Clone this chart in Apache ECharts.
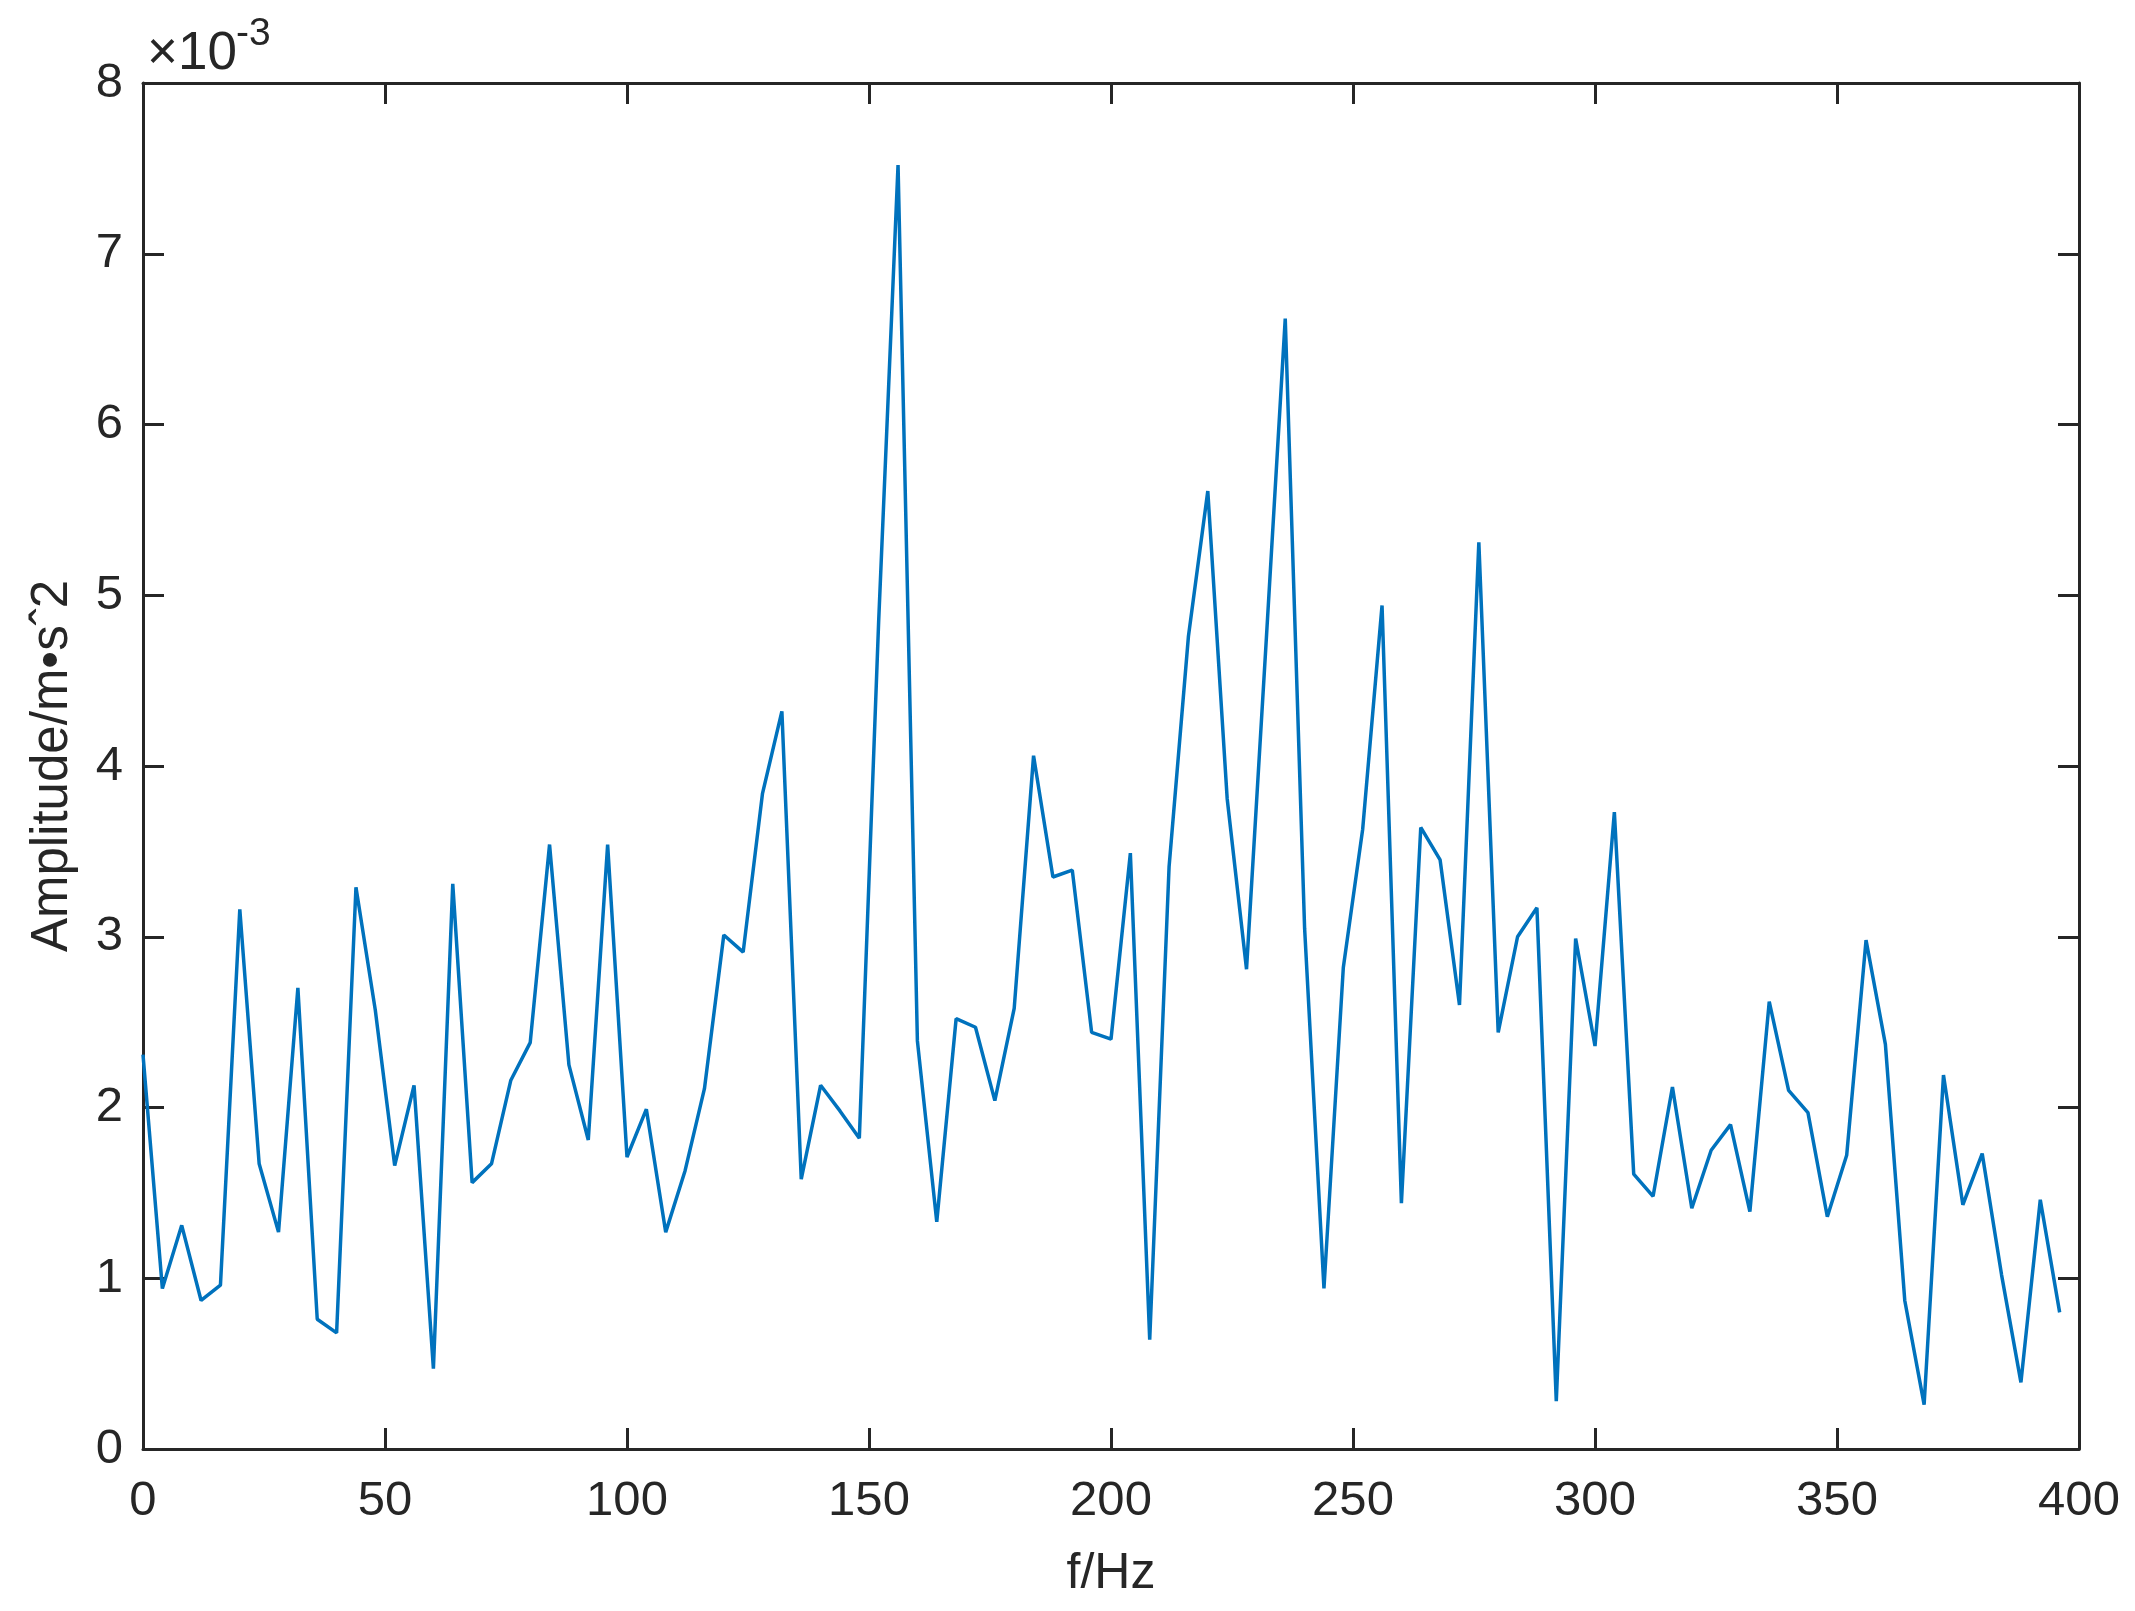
<!DOCTYPE html>
<html>
<head>
<meta charset="utf-8">
<script src="https://cdn.jsdelivr.net/npm/echarts@6/dist/echarts.min.js"></script>
<style>
html,body{margin:0;padding:0;background:#fff;}
#chart{width:2135px;height:1611px;}
</style>
</head>
<body>
<div id="chart"></div>
<script>
// frequency (Hz)
const freq = [0,4,8,12,16,20,24,28,32,36,40,44,48,52,56,60,64,68,72,76,80,84,88,92,96,
  100,104,108,112,116,120,124,128,132,136,140,144,148,152,156,160,164,168,172,176,180,184,188,192,196,200,
  204,208,212,216,220,224,228,232,236,240,244,248,252,256,260,264,268,272,276,280,284,288,292,296,300,
  304,308,312,316,320,324,328,332,336,340,344,348,352,356,360,364,368,372,376,380,384,388,392,396];
// amplitude (x 10^-3 m·s^-2)
const amp = [2.31,0.94,1.31,0.87,0.96,3.16,1.67,1.27,2.70,0.76,0.68,3.29,2.57,1.66,2.13,0.47,3.31,1.56,1.67,2.16,2.38,3.54,2.25,1.81,3.54,
  1.71,1.99,1.27,1.63,2.11,3.01,2.91,3.84,4.32,1.58,2.13,1.98,1.82,4.85,7.52,2.39,1.33,2.52,2.47,2.04,2.58,4.06,3.35,3.39,2.44,2.40,
  3.49,0.64,3.41,4.76,5.61,3.81,2.81,4.70,6.62,3.05,0.94,2.82,3.63,4.94,1.44,3.64,3.45,2.60,5.31,2.44,3.00,3.17,0.28,2.99,2.36,
  3.73,1.61,1.48,2.12,1.41,1.75,1.90,1.39,2.62,2.10,1.97,1.36,1.72,2.98,2.37,0.87,0.26,2.19,1.43,1.73,1.02,0.39,1.46,0.80];
const xName = 'f/Hz';
const yName = 'Amplitude/m•s\u02C62';
const expText = '\u00D710';
const expSup = '-3';

const FONT = "'Liberation Sans', Arial, sans-serif";
const AX = '#262626';
const chart = echarts.init(document.getElementById('chart'));
const seriesData = freq.map((f, i) => [f, amp[i]]);

const axisLineStyle = {color: AX, width: 3};
const tickStyle = {show: true, inside: true, length: 21, lineStyle: {color: AX, width: 3}};

chart.setOption({
  backgroundColor: '#fff',
  animation: false,
  grid: {left: 143, top: 83, width: 1936, height: 1366, containLabel: false},
  xAxis: [{
    type: 'value', min: 0, max: 400, interval: 50, position: 'bottom',
    name: xName, nameLocation: 'middle', nameGap: 100,
    nameTextStyle: {fontFamily: FONT, fontSize: 50, color: AX},
    axisLine: {show: true, onZero: false, lineStyle: axisLineStyle},
    axisTick: tickStyle,
    axisLabel: {fontFamily: FONT, fontSize: 49, color: AX, margin: 28},
    splitLine: {show: false}
  }, {
    type: 'value', min: 0, max: 400, interval: 50, position: 'top',
    axisLine: {show: true, onZero: false, lineStyle: axisLineStyle},
    axisTick: tickStyle,
    axisLabel: {show: false},
    splitLine: {show: false}
  }],
  yAxis: [{
    type: 'value', min: 0, max: 8, interval: 1, position: 'left',
    name: yName, nameLocation: 'middle', nameGap: 65, nameRotate: 90,
    nameTextStyle: {fontFamily: FONT, fontSize: 51, color: AX},
    axisLine: {show: true, onZero: false, lineStyle: axisLineStyle},
    axisTick: tickStyle,
    axisLabel: {fontFamily: FONT, fontSize: 49, color: AX, margin: 20},
    splitLine: {show: false}
  }, {
    type: 'value', min: 0, max: 8, interval: 1, position: 'right',
    axisLine: {show: true, onZero: false, lineStyle: axisLineStyle},
    axisTick: tickStyle,
    axisLabel: {show: false},
    splitLine: {show: false}
  }],
  graphic: [
    {type: 'text', left: 147, top: 28, style: {text: expText, font: "53px 'Liberation Sans', Arial, sans-serif", fill: AX}},
    {type: 'text', left: 236, top: 15, style: {text: expSup, font: "39px 'Liberation Sans', Arial, sans-serif", fill: AX}}
  ],
  series: [{
    type: 'line', xAxisIndex: 0, yAxisIndex: 0,
    data: seriesData, showSymbol: false, symbol: 'none',
    lineStyle: {color: '#0072BD', width: 3.5}, itemStyle: {color: '#0072BD'}
  }]
});
</script>
</body>
</html>
